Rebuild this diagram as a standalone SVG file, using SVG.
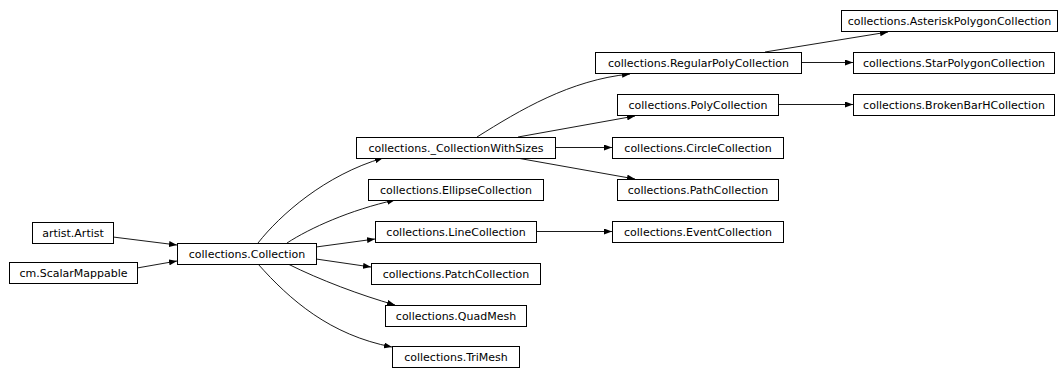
<svg xmlns="http://www.w3.org/2000/svg" width="1060" height="368" viewBox="0 0 1060 368">
<style>
.n rect{fill:#fff;stroke:#000;stroke-width:1}
.n text{font-family:"DejaVu Sans",sans-serif;font-size:11px;fill:#000;text-anchor:middle}
.e path{fill:none;stroke:#000;stroke-width:0.9;marker-end:url(#ah)}
</style>
<defs>
<marker id="ah" markerUnits="userSpaceOnUse" markerWidth="8" markerHeight="6" refX="8" refY="3" orient="auto">
<path d="M0,0 L8,3 L0,6 z" fill="#000"/>
</marker>
</defs>
<rect width="1060" height="368" fill="#fff"/>
<g id="connectors" class="e">
<path d="M113,237 L177,245"/>
<path d="M137,268 L177,261"/>
<path d="M258,243 C280,215 325,175 383,158"/>
<path d="M287,243 C310,228 350,210 395,200"/>
<path d="M316,247 L375,239"/>
<path d="M316,259 L371,267"/>
<path d="M288,264 C320,280 360,295 395,305"/>
<path d="M258,264 C290,300 330,335 392,347"/>
<path d="M477,137 C520,110 570,80 630,74"/>
<path d="M518,137 L635,116"/>
<path d="M555,147.5 L612,147.5"/>
<path d="M517,158 L635,179"/>
<path d="M536,231.5 L612,231.5"/>
<path d="M801,62.5 L853,62.5"/>
<path d="M765,52 L888,32"/>
<path d="M778,104.5 L853,104.5"/>
</g>
<g id="artist" class="n"><rect x="32.5" y="222.5" width="81" height="21"/><text x="73" y="237">artist.Artist</text></g>
<g id="scalarmappable" class="n"><rect x="9.5" y="262.5" width="128" height="21"/><text x="73.5" y="277">cm.ScalarMappable</text></g>
<g id="collection" class="n"><rect x="177.5" y="243.5" width="139" height="21"/><text x="247" y="258">collections.Collection</text></g>
<g id="collectionwithsizes" class="n"><rect x="356.5" y="137.5" width="199" height="21"/><text x="456" y="152">collections._CollectionWithSizes</text></g>
<g id="ellipsecollection" class="n"><rect x="368.5" y="179.5" width="175" height="21"/><text x="456" y="194">collections.EllipseCollection</text></g>
<g id="linecollection" class="n"><rect x="375.5" y="221.5" width="161" height="21"/><text x="456" y="236">collections.LineCollection</text></g>
<g id="patchcollection" class="n"><rect x="371.5" y="263.5" width="169" height="21"/><text x="456" y="278">collections.PatchCollection</text></g>
<g id="quadmesh" class="n"><rect x="385.5" y="305.5" width="141" height="21"/><text x="456" y="320">collections.QuadMesh</text></g>
<g id="trimesh" class="n"><rect x="392.5" y="346.5" width="127" height="21"/><text x="456" y="361">collections.TriMesh</text></g>
<g id="regularpolycollection" class="n"><rect x="595.5" y="52.5" width="206" height="21"/><text x="698.5" y="67">collections.RegularPolyCollection</text></g>
<g id="polycollection" class="n"><rect x="617.5" y="94.5" width="161" height="21"/><text x="698" y="109">collections.PolyCollection</text></g>
<g id="circlecollection" class="n"><rect x="612.5" y="137.5" width="171" height="21"/><text x="698" y="152">collections.CircleCollection</text></g>
<g id="pathcollection" class="n"><rect x="617.5" y="179.5" width="161" height="21"/><text x="698" y="194">collections.PathCollection</text></g>
<g id="eventcollection" class="n"><rect x="612.5" y="221.5" width="171" height="21"/><text x="698" y="236">collections.EventCollection</text></g>
<g id="asteriskpolygoncollection" class="n"><rect x="841.5" y="10.5" width="216" height="21"/><text x="949.5" y="25">collections.AsteriskPolygonCollection</text></g>
<g id="starpolygoncollection" class="n"><rect x="853.5" y="52.5" width="201" height="21"/><text x="954" y="67">collections.StarPolygonCollection</text></g>
<g id="brokenbarhcollection" class="n"><rect x="853.5" y="94.5" width="201" height="21"/><text x="954" y="109">collections.BrokenBarHCollection</text></g>
</svg>
